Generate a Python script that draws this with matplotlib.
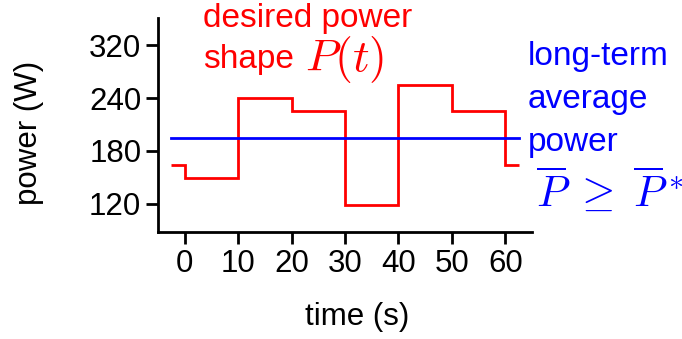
import matplotlib
matplotlib.use("Agg")
import matplotlib.pyplot as plt

plt.rcParams['font.family'] = ['Liberation Sans', 'DejaVu Sans']
plt.rcParams['mathtext.fontset'] = 'cm'

# step profile: level held from each edge to the next
edges = [-2.5, 0, 10, 20, 30, 40, 50, 60, 62.5]
levels = [164, 149, 240, 225, 119, 255, 225, 164]
avg_power = 194.5
avg_span = [-2.5, 62.5]

xticks = [0, 10, 20, 30, 40, 50, 60]
yticks = [120, 180, 240, 300]
ytick_labels = ['120', '180', '240', '320']


def main():
    W, H = 682, 339
    fig = plt.figure(figsize=(W / 100, H / 100), dpi=100)
    ax = fig.add_axes([158 / W, 1 - 232 / H, (532 - 158) / W, (232 - 18) / H])

    ax.stairs(levels, edges, color='#ff0000', lw=2.0, baseline=None)
    ax.plot(avg_span, [avg_power, avg_power], color='#0000ff', lw=2.0)

    ax.set_xlim(-5, 65)
    ax.set_ylim(88, 331)
    ax.set_xticks(xticks)
    ax.set_yticks(yticks)
    ax.set_yticklabels(ytick_labels)
    for s in ['top', 'right']:
        ax.spines[s].set_visible(False)
    for s in ['left', 'bottom']:
        ax.spines[s].set_linewidth(2.0)
    ax.tick_params(direction='out', length=8.5, width=2.0, labelsize=22.5, pad=3.5)
    ax.set_xlabel('time (s)', fontsize=22.5)
    ax.set_ylabel('power (W)', fontsize=22.5)
    ax.xaxis.set_label_coords(0.533, -0.325)
    ax.yaxis.set_label_coords(-0.305, 0.465)

    red = '#ff0000'
    blue = '#0000ff'
    fig.text(203 / W, 1 - 27 / H, 'desired power', color=red, fontsize=24, va='baseline')
    fig.text(203 / W, 1 - 68 / H, 'shape', color=red, fontsize=24, va='baseline')
    fig.text(305 / W, 1 - 71 / H, '$P(t)$', color=red, fontsize=33, va='baseline')

    fig.text(528 / W, 1 - 65 / H, 'long-term', color=blue, fontsize=24, va='baseline')
    fig.text(528 / W, 1 - 108 / H, 'average', color=blue, fontsize=24, va='baseline')
    fig.text(528 / W, 1 - 151 / H, 'power', color=blue, fontsize=24, va='baseline')
    fig.text(536 / W, 1 - 207 / H, r'$\overline{P}\;\geq\;\overline{P}^*$', color=blue,
             fontsize=31, va='baseline')

    fig.savefig('out.png', dpi=100)


if __name__ == "__main__":
    main()
